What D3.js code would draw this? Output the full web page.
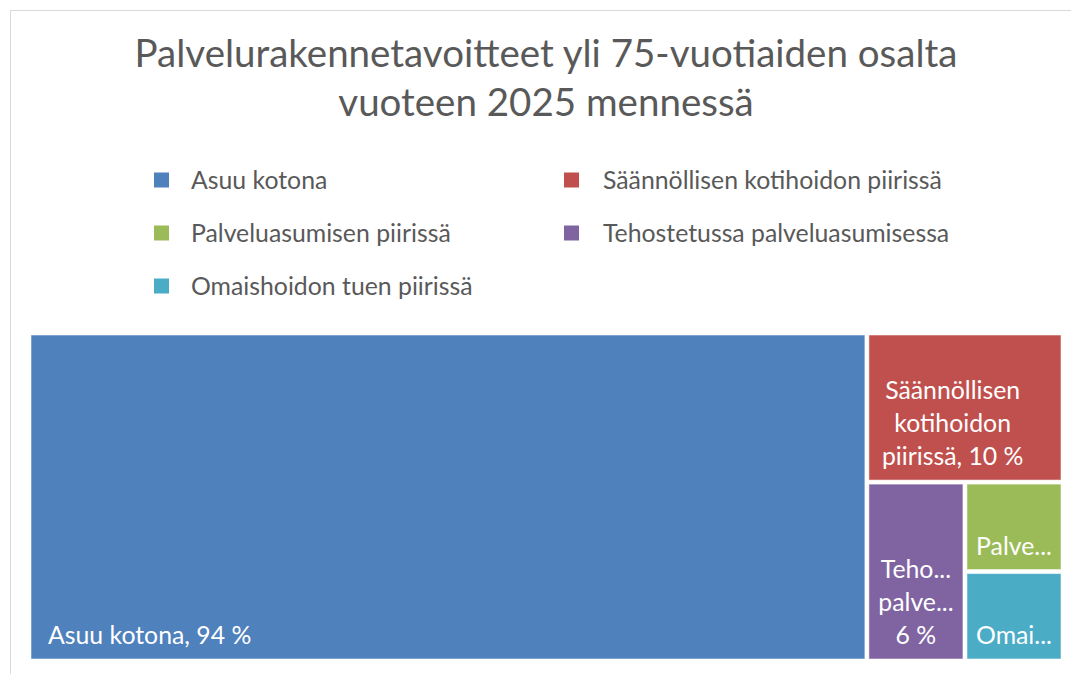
<!DOCTYPE html>
<html>
<head>
<meta charset="utf-8">
<script src="https://cdn.jsdelivr.net/npm/d3@7"></script>
<style>
  body { margin: 0; background: #fff; }
  svg { display: block; font-family: Lato, "Open Sans", sans-serif; }
</style>
</head>
<body>
<svg id="chart" width="1071" height="674"></svg>
<script>
const titleLines = ["Palvelurakennetavoitteet yli 75-vuotiaiden osalta", "vuoteen 2025 mennessä"];
const categories = [
  "Asuu kotona",
  "Säännöllisen kotihoidon piirissä",
  "Palveluasumisen piirissä",
  "Tehostetussa palveluasumisessa",
  "Omaishoidon tuen piirissä"
];
const values = [94, 10, 3, 6, 3];
const colors = ["#4F81BD", "#C0504D", "#9BBB59", "#8064A2", "#4BACC6"];

const width = 1071, height = 674;
const svg = d3.select("#chart");

// chart frame (runs off the right / bottom edge like the source)
svg.append("rect")
  .attr("x", 10.5).attr("y", 10.5)
  .attr("width", 1100).attr("height", 700)
  .attr("fill", "#fff")
  .attr("stroke", "#d9d9d9");

// title
svg.append("g").selectAll("text")
  .data(titleLines)
  .join("text")
  .attr("x", 546)
  .attr("y", (d, i) => 67 + i * 49)
  .attr("text-anchor", "middle")
  .style("font-size", "38.5px")
  .style("fill", "#595959")
  .text(d => d);

// legend, two columns row by row
const legend = svg.append("g").selectAll("g")
  .data(categories)
  .join("g")
  .attr("transform", (d, i) => `translate(${i % 2 ? 564 : 154},${180 + Math.floor(i / 2) * 53})`);

legend.append("rect")
  .attr("x", 0).attr("y", -7.5)
  .attr("width", 15).attr("height", 15)
  .attr("fill", (d, i) => colors[i]);

legend.append("text")
  .attr("x", (d, i) => i % 2 ? 39 : 37)
  .attr("y", 8.5)
  .style("font-size", "24.8px")
  .style("fill", "#595959")
  .text(d => d);

// treemap
const area = { x: 31, y: 335, w: 1030, h: 324 };
const root = d3.hierarchy({
  children: categories.map((name, i) => ({ name, value: values[i], color: colors[i] }))
})
  .sum(d => d.value || 0)
  .sort((a, b) => b.value - a.value);

d3.treemap()
  .tile(d3.treemapSquarify.ratio(1))
  .size([area.w, area.h])
  .paddingInner(4)(root);

const cells = svg.append("g")
  .attr("transform", `translate(${area.x},${area.y})`)
  .selectAll("g")
  .data(root.leaves())
  .join("g");

cells.append("rect")
  .attr("x", d => d.x0).attr("y", d => d.y0)
  .attr("width", d => d.x1 - d.x0)
  .attr("height", d => d.y1 - d.y0)
  .attr("fill", d => d.data.color)
  .attr("stroke", "rgba(255,255,255,0.55)")
  .attr("stroke-width", 1);

const labelSize = 24.8, lineH = 33, padX = 13;
const measurer = svg.append("text").style("font-size", labelSize + "px").attr("visibility", "hidden");
function textW(s) { measurer.text(s); return measurer.node().getComputedTextLength(); }

// shorten a single word with "..." until it fits
function fitWord(word, maxW) {
  if (textW(word) <= maxW) return word;
  for (let k = word.length - 1; k > 0; k--) {
    const c = word.slice(0, k) + "...";
    if (textW(c) <= maxW) return c;
  }
  return "...";
}

function wrap(str, maxW, maxLines) {
  const words = str.split(" ");
  const lines = [];
  let line = "";
  words.forEach(w => {
    const test = line ? line + " " + w : w;
    if (line && textW(test) <= maxW) line = test;
    else {
      if (line) lines.push(line);
      line = fitWord(w, maxW);
    }
  });
  if (line) lines.push(line);
  if (lines.length > maxLines) {
    const out = lines.slice(0, maxLines);
    const last = out[maxLines - 1];
    if (!last.endsWith("...")) out[maxLines - 1] = fitWord(last + "...", maxW);
    return out;
  }
  return lines;
}

cells.each(function (d) {
  const w = d.x1 - d.x0, h = d.y1 - d.y0;
  const maxLines = Math.max(1, Math.floor((h - 30) / lineH));
  const lines = wrap(`${d.data.name}, ${d.data.value}\u00a0%`, w - 16, maxLines);
  const blockW = d3.max(lines, textW);
  const left = Math.min(padX, (w - blockW) / 2) + (d.data.value === d3.max(values) ? 4 : 0);
  d3.select(this).append("g").selectAll("text")
    .data(lines)
    .join("text")
    .attr("x", d.x0 + left + blockW / 2)
    .attr("y", (l, i) => d.y1 - 15 - (lines.length - 1 - i) * lineH)
    .attr("text-anchor", "middle")
    .style("font-size", labelSize + "px")
    .style("fill", "#fff")
    .text(l => l);
});
measurer.remove();
</script>
</body>
</html>
